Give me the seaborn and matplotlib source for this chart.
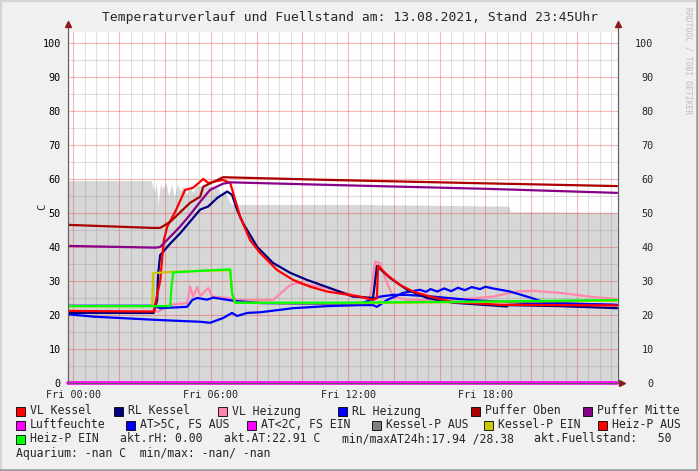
import matplotlib.pyplot as plt
import matplotlib.patches as mpatches
from matplotlib.ticker import MultipleLocator
import seaborn as sns

# time axis: hours since Fri 00:00 (window 23:45 Thu .. 23:45 Fri)
fill_t = [-0.25, 3.4, 3.55, 3.62, 3.7, 3.8, 3.9, 4.05, 4.15, 4.3, 4.4, 4.55, 4.65, 4.8, 4.95, 5.1, 5.2,
          5.4, 5.9, 6.35, 6.45, 6.55, 6.7, 6.85, 6.95, 9.0, 12.0, 15.0, 19.0, 19.1, 23.75]
fuellstand = [59.5, 59.5, 56.0, 59.0, 52.5, 58.5, 57.0, 59.0, 55.0, 58.5, 54.5, 58.5, 56.5, 58.0, 55.5,
              58.0, 56.0, 58.0, 58.0, 57.0, 54.0, 57.0, 55.0, 53.0, 52.5, 52.5, 52.5, 52.3, 52.0, 50.3, 50.2]

vl_kessel_t = [-0.25, 3.5, 3.79, 3.95, 4.1, 4.45, 4.88, 5.23, 5.54, 5.67, 5.89, 6.28, 6.54, 6.85, 6.98,
               7.28, 7.72, 8.16, 8.9, 9.6, 10.34, 11.08, 12.52, 13.09, 13.26, 13.31, 13.7, 14.27, 14.84,
               15.58, 16.58, 18.64, 23.75]
vl_kessel = [21.2, 21.0, 30.0, 42.0, 46.0, 50.4, 56.8, 57.4, 59.2, 60.0, 58.8, 59.4, 59.7, 58.8, 55.9,
             48.9, 42.0, 38.2, 33.2, 30.3, 28.3, 26.9, 25.4, 24.4, 25.0, 34.5, 31.8, 28.8, 26.9,
             25.4, 23.8, 23.0, 22.8]

rl_kessel_t = [-0.25, 3.5, 3.66, 3.7, 3.79, 4.23, 4.66, 5.1, 5.54, 5.89, 6.28, 6.72, 6.93, 7.15, 7.41,
               8.03, 8.72, 9.47, 10.21, 11.21, 12.22, 13.09, 13.26, 13.83, 14.58, 15.45, 16.58, 18.94,
               18.96, 21.26, 23.75]
rl_kessel = [20.6, 20.6, 24.4, 32.0, 37.6, 41.0, 44.0, 47.5, 51.0, 51.9, 54.4, 56.3, 55.3, 50.9, 47.0,
             40.0, 35.3, 32.4, 30.3, 27.9, 25.4, 25.0, 34.4, 30.9, 27.4, 25.0, 23.6, 22.5,
             22.9, 22.6, 22.0]

vl_heizung_t = [-0.25, 3.7, 4.23, 4.97, 5.1, 5.23, 5.41, 5.54, 5.89, 6.06, 6.72, 7.41, 8.72, 9.47, 9.77,
                11.08, 12.52, 12.96, 13.18, 13.39, 13.7, 13.97, 14.58, 16.89, 18.33, 19.38, 20.08,
                21.26, 22.7, 23.75]
vl_heizung = [21.0, 21.0, 23.0, 23.5, 28.3, 25.4, 28.2, 25.6, 27.9, 25.4, 25.0, 24.4, 24.4, 28.8, 29.4,
              27.9, 25.4, 25.0, 35.7, 35.3, 29.4, 25.4, 24.4, 24.6, 25.4, 26.9, 27.1,
              26.5, 25.3, 24.7]

rl_heizung_t = [-0.25, 3.5, 3.79, 4.97, 5.19, 5.41, 5.84, 6.1, 6.98, 8.16, 12.52, 12.96, 13.39, 13.97,
                14.58, 15.71, 17.33, 19.82, 23.75]
rl_heizung = [22.7, 22.7, 22.0, 22.4, 24.4, 25.0, 24.5, 25.1, 24.2, 23.5, 23.2, 24.4, 25.4, 25.9,
              25.9, 25.4, 24.4, 23.5, 23.0]

aussen_t = [-0.25, 0.9, 3.79, 5.54, 5.97, 6.54, 6.93, 7.15, 7.59, 8.16, 9.6, 11.08, 12.52, 13.09, 13.26,
            13.7, 14.4, 15.14, 15.4, 15.6, 15.9, 16.2, 16.5, 16.8, 17.1, 17.4, 17.76, 18.0, 18.33,
            19.07, 19.82, 20.52, 21.26, 23.75]
aussen = [20.2, 19.5, 18.5, 18.0, 17.7, 19.1, 20.6, 19.7, 20.6, 20.8, 22.0, 22.6, 22.9, 22.9, 22.4,
          24.4, 26.5, 27.4, 26.8, 27.6, 26.9, 27.8, 27.0, 28.0, 27.3, 28.2, 27.6, 28.3, 27.8,
          26.9, 25.4, 23.9, 23.5, 22.9]

kessel_p_t = [-0.25, 3.44, 3.48, 4.36, 6.85, 6.93, 7.07, 11.21, 17.33, 23.75]
kessel_p = [22.6, 22.6, 32.3, 32.7, 33.2, 26.5, 23.6, 23.4, 23.8, 24.2]

heiz_p_t = [-0.25, 4.23, 4.28, 4.36, 5.54, 6.85, 6.93, 7.07, 11.21, 17.33, 23.75]
heiz_p = [22.6, 22.6, 28.0, 32.5, 33.0, 33.4, 26.5, 23.6, 23.6, 23.9, 24.4]

puffer_oben_t = [-0.25, 3.44, 3.79, 4.23, 5.1, 5.54, 5.67, 6.54, 11.21, 18.0, 23.75]
puffer_oben = [46.5, 45.6, 45.6, 47.4, 53.0, 54.8, 57.7, 60.5, 59.7, 58.7, 57.9]

puffer_mitte_t = [-0.25, 3.6, 3.79, 4.23, 4.66, 5.1, 5.54, 5.97, 6.54, 6.85, 12.0, 18.0, 23.75]
puffer_mitte = [40.3, 39.8, 40.0, 43.0, 46.0, 49.5, 53.3, 56.8, 58.6, 59.0, 58.1, 57.1, 55.9]

luft_t = [-0.25, 23.75]
luftfeuchte = [0.0, 0.0]

x_labels = ["Fri 00:00", "Fri 06:00", "Fri 12:00", "Fri 18:00"]

legend_labels = ["VL Kessel", "RL Kessel", "VL Heizung", "RL Heizung", "Puffer Oben", "Puffer Mitte",
                 "Luftfeuchte", "AT>5C, FS AUS", "AT<2C, FS EIN", "Kessel-P AUS", "Kessel-P EIN",
                 "Heiz-P AUS", "Heiz-P EIN"]
legend_colors = ["#ff0000", "#000080", "#ff88aa", "#0000ff", "#aa0000", "#880088",
                 "#ff00ff", "#0000ff", "#ff00ff", "#808080", "#c8c800", "#ff0000", "#00ff00"]
legend_x = [16, 114, 218, 338, 471, 583, 16, 126, 247, 372, 484, 598, 16]
legend_row = [0, 0, 0, 0, 0, 0, 1, 1, 1, 1, 1, 1, 2]
info_texts = ["akt.rH: 0.00", "akt.AT:22.91 C", "min/maxAT24h:17.94 /28.38", "akt.Fuellstand:   50"]
info_x = [120, 224, 342, 534]
aquarium_text = "Aquarium: -nan C  min/max: -nan/ -nan"

W, H = 698, 471
sns.set_style("white")
plt.rcParams['font.family'] = ['DejaVu Sans Mono']

fig = plt.figure(figsize=(W / 100, H / 100), dpi=100, facecolor="#f0f0f0")
ax = fig.add_axes([67.7 / W, 88 / H, (617.5 - 67.7) / W, (383 - 32) / H])
ax.set_facecolor("white")


def fx(px):
    return px / W


def fy(py):
    return 1 - py / H


# fill level area
ax.fill_between(fill_t, fuellstand, 0, color="#d7d7d7", lw=0, zorder=1)

series = [
    (vl_heizung_t, vl_heizung, "#ff88aa"),
    (rl_heizung_t, rl_heizung, "#0000ff"),
    (aussen_t, aussen, "#0000ff"),
    (rl_kessel_t, rl_kessel, "#000080"),
    (vl_kessel_t, vl_kessel, "#ff0000"),
    (puffer_oben_t, puffer_oben, "#aa0000"),
    (puffer_mitte_t, puffer_mitte, "#880088"),
    (kessel_p_t, kessel_p, "#c8c800"),
    (heiz_p_t, heiz_p, "#00ff00"),
]
for t, v, c in series:
    sns.lineplot(x=t, y=v, color=c, lw=1.6, ax=ax, sort=False, estimator=None, zorder=3)
sns.lineplot(x=luft_t, y=luftfeuchte, color="#ff00ff", lw=2.6, ax=ax, sort=False,
             estimator=None, zorder=4, clip_on=False)

ax.set_xlim(-0.25, 23.77)
ax.set_ylim(0, 103.2)

# grid
ax.xaxis.set_major_locator(MultipleLocator(2))
ax.xaxis.set_minor_locator(MultipleLocator(0.5))
ax.yaxis.set_major_locator(MultipleLocator(10))
ax.yaxis.set_minor_locator(MultipleLocator(5))
ax.set_axisbelow('line')
ax.grid(which='major', color=(0.95, 0.15, 0.15), alpha=0.33, lw=0.8)
ax.grid(which='minor', color=(0.45, 0.45, 0.45), alpha=0.22, lw=0.8)
ax.set_xticklabels([])
ax.tick_params(which='both', length=0)
ax.tick_params(axis='y', labelsize=7.3, pad=5, labelcolor="black")
ax.set_ylabel("")
ax.set_xlabel("")
fig.text(fx(42), fy(207), "C", rotation=90, ha="center", va="center", fontsize=7.5)

xt = ax.secondary_xaxis('bottom')
xt.set_xticks([0, 6, 12, 18], x_labels)
xt.tick_params(length=0, labelsize=7.3, pad=5)
xt.spines['bottom'].set_visible(False)

ax2 = ax.twinx()
ax2.set_ylim(0, 103.2)
ax2.yaxis.set_major_locator(MultipleLocator(10))
ax2.tick_params(length=0, labelsize=7.3, pad=26)
for lab in ax2.get_yticklabels():
    lab.set_ha("right")

for a in (ax, ax2):
    a.spines['top'].set_visible(False)
    for s in ('left', 'right', 'bottom'):
        a.spines[s].set_color("#606060")
        a.spines[s].set_linewidth(0.8)

# axis arrows
arrow_c = "#8b1a1a"
ax.plot([0, 0], [1, 1.02], color="#606060", lw=0.8, transform=ax.transAxes, clip_on=False)
ax.plot([1, 1], [1, 1.02], color="#606060", lw=0.8, transform=ax.transAxes, clip_on=False)
ax.plot([0, 1], [1.022, 1.022], ls="none", marker="^", ms=4.5, color=arrow_c,
        transform=ax.transAxes, clip_on=False)
ax.plot([1.008], [0], ls="none", marker=">", ms=4.5, color=arrow_c,
        transform=ax.transAxes, clip_on=False)

fig.text(fx(350), fy(17), "Temperaturverlauf und Fuellstand am: 13.08.2021, Stand 23:45Uhr",
         ha="center", va="center", fontsize=9.4)
fig.text(fx(688), fy(7), "RRDTOOL / TOBI OETIKER", rotation=270, ha="center", va="top",
         fontsize=5.8, color="#bdbdbd")

# legend
row_y = [411, 425, 439, 453]
for lab, col, x, r in zip(legend_labels, legend_colors, legend_x, legend_row):
    y = row_y[r]
    fig.patches.append(mpatches.Rectangle((fx(x), fy(y + 4.5)), 9 / W, 9 / H, transform=fig.transFigure,
                                          facecolor=col, edgecolor="black", lw=0.6))
    fig.text(fx(x + 14), fy(y), lab, ha="left", va="center", fontsize=8.3)
for txt, x in zip(info_texts, info_x):
    fig.text(fx(x), fy(row_y[2]), txt, ha="left", va="center", fontsize=8.3)
fig.text(fx(16), fy(row_y[3]), aquarium_text, ha="left", va="center", fontsize=8.3)

# 3d frame
fig.add_artist(plt.Line2D([0, 1], [1 - 1 / H, 1 - 1 / H], transform=fig.transFigure, color="#d4d4d4", lw=1.5))
fig.add_artist(plt.Line2D([1 / W, 1 / W], [0, 1], transform=fig.transFigure, color="#d4d4d4", lw=1.5))
fig.add_artist(plt.Line2D([0, 1], [1.2 / H, 1.2 / H], transform=fig.transFigure, color="#9a9a9a", lw=1.8))
fig.add_artist(plt.Line2D([1 - 1.2 / W, 1 - 1.2 / W], [0, 1], transform=fig.transFigure, color="#9a9a9a", lw=1.8))

fig.savefig("out.png", dpi=100, facecolor=fig.get_facecolor())
